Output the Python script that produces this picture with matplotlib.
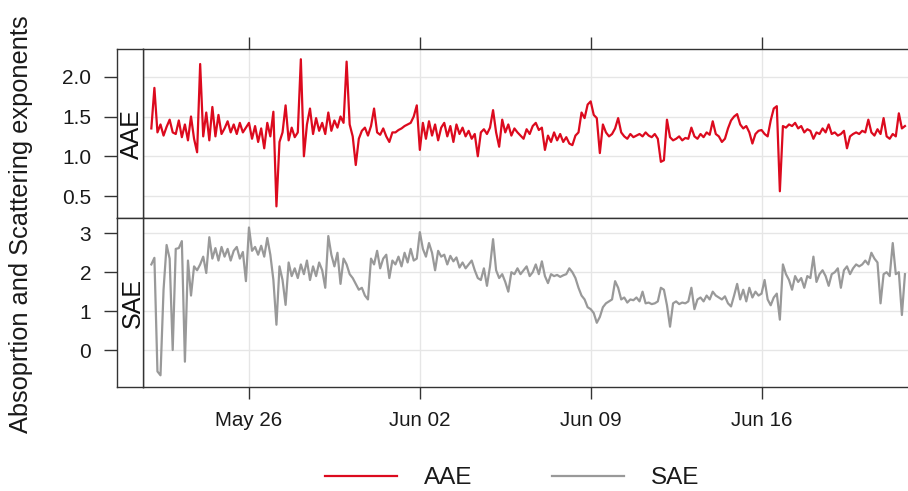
import numpy as np
import matplotlib
matplotlib.use("Agg")
import matplotlib.pyplot as plt
from matplotlib.lines import Line2D

plt.rcParams['font.family'] = ['Liberation Sans', 'DejaVu Sans']

# ---- data: 3-hourly values, one row per day, starting May 22 00:00 ----
start_time = "2013-05-22T00:00"
step_hours = 3

aae_days = [
    [1.35, 1.86, 1.30, 1.40, 1.26, 1.37, 1.46, 1.30],  # May 22
    [1.28, 1.45, 1.24, 1.40, 1.20, 1.50, 1.22, 1.05],  # May 23
    [2.16, 1.25, 1.55, 1.20, 1.62, 1.25, 1.52, 1.28],  # May 24
    [1.35, 1.44, 1.30, 1.40, 1.28, 1.42, 1.30, 1.36],  # May 25
    [1.42, 1.22, 1.38, 1.18, 1.35, 1.10, 1.42, 1.25],  # May 26
    [1.56, 0.37, 1.18, 1.30, 1.64, 1.20, 1.36, 1.24],  # May 27
    [1.30, 2.22, 1.00, 1.40, 1.60, 1.28, 1.48, 1.32],  # May 28
    [1.42, 1.28, 1.55, 1.32, 1.45, 1.36, 1.50, 1.42],  # May 29
    [2.19, 1.40, 1.25, 0.89, 1.22, 1.32, 1.36, 1.26],  # May 30
    [1.38, 1.60, 1.30, 1.27, 1.35, 1.25, 1.18, 1.30],  # May 31
    [1.30, 1.33, 1.35, 1.38, 1.40, 1.42, 1.50, 1.64],  # Jun 01
    [1.08, 1.42, 1.22, 1.44, 1.26, 1.40, 1.20, 1.36],  # Jun 02
    [1.42, 1.25, 1.38, 1.18, 1.40, 1.28, 1.36, 1.25],  # Jun 03
    [1.32, 1.22, 1.28, 1.00, 1.30, 1.34, 1.28, 1.36],  # Jun 04
    [1.58, 1.30, 1.12, 1.46, 1.30, 1.40, 1.26, 1.35],  # Jun 05
    [1.30, 1.26, 1.22, 1.34, 1.28, 1.38, 1.42, 1.33],  # Jun 06
    [1.36, 1.08, 1.26, 1.18, 1.30, 1.20, 1.28, 1.18],  # Jun 07
    [1.24, 1.16, 1.14, 1.26, 1.30, 1.55, 1.48, 1.65],  # Jun 08
    [1.69, 1.52, 1.48, 1.04, 1.40, 1.30, 1.25, 1.28],  # Jun 09
    [1.35, 1.48, 1.30, 1.25, 1.22, 1.28, 1.24, 1.26],  # Jun 10
    [1.28, 1.25, 1.30, 1.26, 1.24, 1.28, 1.22, 0.93],  # Jun 11
    [0.95, 1.46, 1.24, 1.20, 1.22, 1.25, 1.20, 1.23],  # Jun 12
    [1.22, 1.36, 1.25, 1.22, 1.28, 1.24, 1.30, 1.27],  # Jun 13
    [1.44, 1.28, 1.25, 1.18, 1.22, 1.35, 1.45, 1.50],  # Jun 14
    [1.53, 1.40, 1.35, 1.38, 1.30, 1.16, 1.28, 1.32],  # Jun 15
    [1.33, 1.28, 1.25, 1.45, 1.60, 1.63, 0.56, 1.38],  # Jun 16
    [1.36, 1.40, 1.38, 1.42, 1.35, 1.38, 1.30, 1.34],  # Jun 17
    [1.32, 1.22, 1.30, 1.28, 1.35, 1.30, 1.40, 1.28],  # Jun 18
    [1.30, 1.26, 1.28, 1.32, 1.10, 1.25, 1.28, 1.30],  # Jun 19
    [1.28, 1.32, 1.30, 1.46, 1.30, 1.26, 1.34, 1.28],  # Jun 20
    [1.48, 1.25, 1.22, 1.28, 1.25, 1.54, 1.35, 1.38],  # Jun 21
]

sae_days = [
    [2.20, 2.37, -0.55, -0.65, 1.55, 2.70, 2.35, 0.00],  # May 22
    [2.60, 2.62, 2.80, -0.30, 2.30, 1.40, 2.15, 2.05],   # May 23
    [2.20, 2.40, 1.98, 2.90, 2.35, 2.62, 2.30, 2.65],    # May 24
    [2.40, 2.60, 2.30, 2.55, 2.65, 2.35, 2.52, 1.77],    # May 25
    [3.15, 2.55, 2.65, 2.45, 2.68, 2.40, 2.88, 2.45],    # May 26
    [1.80, 0.65, 2.15, 1.80, 1.16, 2.25, 1.90, 2.10],    # May 27
    [1.85, 2.20, 1.95, 2.30, 1.80, 2.15, 1.90, 2.25],    # May 28
    [2.05, 1.60, 2.93, 2.45, 2.15, 2.50, 1.70, 2.35],    # May 29
    [2.20, 1.95, 1.85, 1.70, 1.55, 1.60, 1.40, 1.30],    # May 30
    [2.35, 2.20, 2.55, 2.10, 2.35, 2.45, 1.85, 2.30],    # May 31
    [2.20, 2.40, 2.15, 2.50, 2.25, 2.60, 2.30, 2.35],    # Jun 01
    [3.03, 2.60, 2.40, 2.75, 2.50, 2.05, 2.55, 2.40],    # Jun 02
    [2.45, 2.20, 2.42, 2.28, 2.38, 2.12, 2.25, 2.10],    # Jun 03
    [2.20, 2.30, 2.05, 1.85, 1.80, 2.10, 1.65, 2.15],    # Jun 04
    [2.85, 2.05, 1.85, 1.95, 1.75, 1.50, 2.00, 1.95],    # Jun 05
    [2.10, 1.95, 2.05, 2.15, 1.90, 2.00, 2.20, 1.95],    # Jun 06
    [2.28, 1.90, 1.72, 1.95, 1.90, 1.93, 1.88, 1.92],    # Jun 07
    [1.95, 2.10, 2.00, 1.85, 1.60, 1.40, 1.30, 1.10],    # Jun 08
    [1.05, 0.95, 0.70, 0.85, 1.10, 1.20, 1.25, 1.30],    # Jun 09
    [1.77, 1.60, 1.30, 1.35, 1.22, 1.30, 1.28, 1.35],    # Jun 10
    [1.25, 1.50, 1.20, 1.22, 1.18, 1.20, 1.25, 1.60],    # Jun 11
    [1.55, 1.15, 0.60, 1.20, 1.25, 1.18, 1.22, 1.20],    # Jun 12
    [1.25, 1.60, 1.05, 1.30, 1.35, 1.25, 1.40, 1.30],    # Jun 13
    [1.50, 1.40, 1.35, 1.30, 1.38, 1.20, 1.12, 1.40],    # Jun 14
    [1.70, 1.30, 1.55, 1.25, 1.60, 1.35, 1.50, 1.40],    # Jun 15
    [1.45, 1.80, 1.30, 1.15, 1.35, 1.45, 0.78, 2.20],    # Jun 16
    [1.95, 1.80, 1.55, 1.90, 1.75, 1.85, 1.60, 1.90],    # Jun 17
    [1.85, 2.40, 1.75, 1.95, 2.05, 1.90, 1.65, 1.95],    # Jun 18
    [2.00, 2.10, 1.60, 2.05, 2.15, 1.95, 2.10, 2.20],    # Jun 19
    [2.15, 2.20, 2.30, 2.20, 2.50, 2.35, 2.25, 1.20],    # Jun 20
    [1.95, 2.00, 1.90, 2.75, 1.95, 2.00, 0.90, 1.95],    # Jun 21
]

panel_names = ["AAE", "SAE"]
panel_colors = ["#DC0A1E", "#999999"]
panel_yticks = [[0.5, 1.0, 1.5, 2.0], [0, 1, 2, 3]]
panel_yticklabels = [["0.5", "1.0", "1.5", "2.0"], ["0", "1", "2", "3"]]
panel_ylims = [(0.22, 2.345), (-0.943, 3.386)]
date_ticks = ["2013-05-26", "2013-06-02", "2013-06-09", "2013-06-16"]
date_labels = ["May 26", "Jun 02", "Jun 09", "Jun 16"]
x_limits = ["2013-05-21T15:30", "2013-06-22T00:00"]
y_title = "Absoprtion and Scattering exponents"

# ---- build ----
aae = np.array(aae_days).ravel()
sae = np.array(sae_days).ravel()
series = [aae, sae]
n = len(aae)
times = np.datetime64(start_time) + np.arange(n) * np.timedelta64(step_hours, 'h')
tick_dt = np.array(date_ticks, dtype='datetime64[m]')
xlim = np.array(x_limits, dtype='datetime64[m]')

W, H = 908, 491
fig = plt.figure(figsize=(W / 100, H / 100), dpi=100)

frame_col = "#333333"
grid_col = "#E6E6E6"
px = lambda v: v / W
py = lambda v: 1 - v / H

panel_px = [(49.3, 218.3), (218.3, 386.7)]
strip_x0, strip_x1, plot_x1 = 117.0, 142.7, 908.0

for i in range(2):
    top, bot = panel_px[i]
    ax = fig.add_axes([px(strip_x1), py(bot), px(plot_x1 - strip_x1), (bot - top) / H])
    st = fig.add_axes([px(strip_x0), py(bot), px(strip_x1 - strip_x0), (bot - top) / H])

    ax.plot(times, series[i], color=panel_colors[i], lw=1.6, zorder=3)
    ax.set_xlim(xlim[0], xlim[1])
    ax.set_ylim(*panel_ylims[i])
    ax.set_yticks(panel_yticks[i])
    ax.set_xticks(tick_dt)
    ax.grid(True, color=grid_col, lw=1.0, zorder=0)
    ax.tick_params(axis='y', length=0, labelleft=False)
    for s in ax.spines.values():
        s.set_color(frame_col)
        s.set_linewidth(1.0)
    ax.spines['right'].set_visible(False)
    if i == 0:
        ax.tick_params(axis='x', which='both', bottom=False, labelbottom=False,
                       top=True, labeltop=False, direction='out', length=8.5,
                       width=1.0, color=frame_col)
    else:
        ax.set_xticklabels(date_labels)
        ax.tick_params(axis='x', bottom=True, labelbottom=True, top=False,
                       direction='out', length=8.5, width=1.0, color=frame_col,
                       labelsize=14.8, pad=9, labelcolor="#1A1A1A")

    st.set_ylim(*panel_ylims[i])
    st.set_xlim(0, 1)
    st.set_xticks([])
    st.set_yticks(panel_yticks[i])
    st.set_yticklabels(panel_yticklabels[i])
    st.tick_params(axis='y', direction='out', length=9.5, width=1.0, color=frame_col,
                   labelsize=15, pad=9, labelcolor="#1A1A1A")
    for s in st.spines.values():
        s.set_color(frame_col)
        s.set_linewidth(1.0)
    st.text(0.6, 0.5, panel_names[i], rotation=90, ha='center', va='center',
            fontsize=18, color="#111111", transform=st.transAxes)

fig.text(px(21), py(224), y_title, rotation=90, ha='center', va='center',
         fontsize=18.3, color="#1A1A1A")

handles = [Line2D([], [], color=c, lw=1.6) for c in panel_colors]
fig.legend(handles, panel_names, loc='center', bbox_to_anchor=(px(512), py(478)),
           ncol=2, frameon=False, fontsize=17.5, handlelength=2.95, handletextpad=1.1,
           columnspacing=3.3, borderpad=0, labelcolor="#1A1A1A")

fig.savefig("out.png", dpi=100)
